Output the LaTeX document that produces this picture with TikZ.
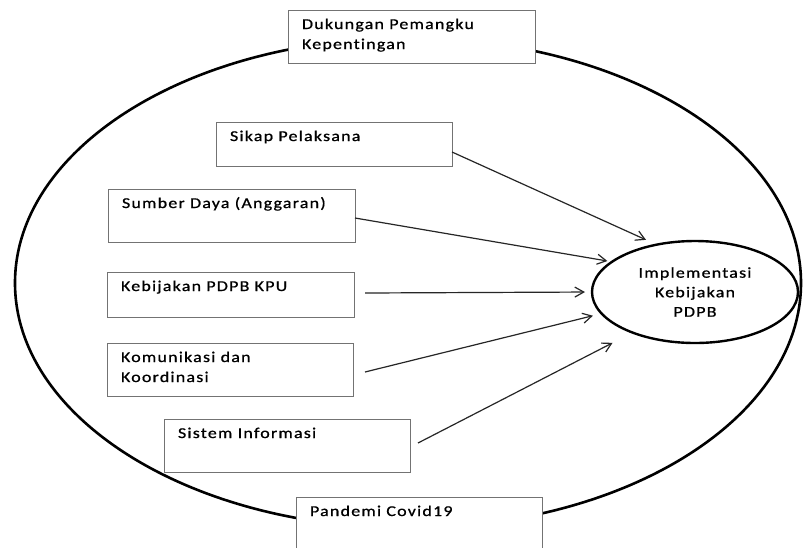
\documentclass[tikz,border=0pt]{standalone}
\usepackage{fontspec}
\setmainfont{Carlito}[FakeStretch=1.2,LetterSpace=8,FakeBold=0.8,Ligatures={NoCommon}]
\usetikzlibrary{shapes.geometric,arrows.meta,calc}
\newcommand\bxt[3]{\parbox[c][#1][t]{#2}{\leftskip=14pt\baselineskip=20pt\rule{0pt}{19pt}#3}}
\tikzset{
  stbox/.style={draw=black!55,line width=0.9pt,fill=white,inner sep=0pt,outer sep=0pt,anchor=north west,
    text=black,font=\fontsize{15pt}{20pt}\selectfont},
  arr/.style={draw=black!85,line width=1.2pt,-{Straight Barb[length=9pt,width=10pt,line width=1.2pt]}}
}
\begin{document}
\begin{tikzpicture}[x=1pt,y=-1pt]
\useasboundingbox (0,0) rectangle (803,547);
\clip (0,0) rectangle (803,547);
\fill[white] (0,0) rectangle (803,547);
\node[ellipse,draw=black,line width=2.6pt,minimum width=786pt,minimum height=490pt,inner sep=0pt,outer sep=0pt] (outer) at (408,283) {};
\node[stbox] (duk) at (288,10) {\bxt{53pt}{247pt}{Dukungan Pemangku\\Kepentingan}};
\node[stbox] (sikap) at (216,122) {\bxt{44pt}{236pt}{Sikap Pelaksana}};
\node[stbox] (sumber) at (108,189) {\bxt{53pt}{247pt}{Sumber Daya (Anggaran)}};
\node[stbox] (keb) at (107,272) {\bxt{45pt}{247pt}{Kebijakan PDPB KPU}};
\node[stbox] (kom) at (107,343) {\bxt{53pt}{246pt}{Komunikasi dan\\Koordinasi}};
\node[stbox] (sis) at (164,419) {\bxt{53pt}{246pt}{Sistem Informasi}};
\node[stbox] (pan) at (296,497) {\bxt{60pt}{246pt}{Pandemi Covid19}};
\node[ellipse,draw=black,line width=2.4pt,minimum width=206pt,minimum height=102pt,inner sep=0pt,outer sep=0pt,
  align=center,text=black,font=\fontsize{15pt}{19.5pt}\selectfont] (impl) at (695,292) {Implementasi\\Kebijakan\\PDPB};
\draw[arr,shorten >=11.7pt] ($(sikap.north east)+(0,30)$) -- (impl.129.9);
\draw[arr,shorten >=4.7pt] ($(sumber.north east)+(0,29)$) -- (impl.160.9);
\draw[arr,shorten >=7pt] ($(keb.north east)+(11,21)$) -- (impl.180);
\draw[arr,shorten >=9pt] ($(kom.north east)+(12,29)$) -- (impl.193.2);
\draw[arr,shorten >=22.5pt] ($(sis.north east)+(8,24)$) -- (impl.213.4);
\end{tikzpicture}
\end{document}
